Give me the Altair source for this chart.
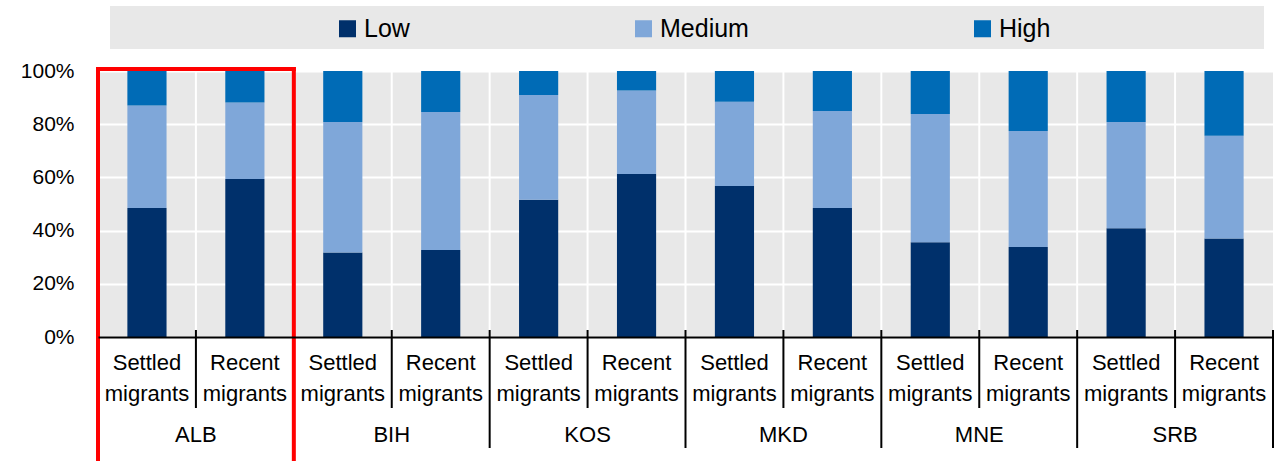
import altair as alt
import pandas as pd

# ---- data ----
countries = ["ALB", "BIH", "KOS", "MKD", "MNE", "SRB"]
groups = ["Settled migrants", "Recent migrants"]
levels = ["Low", "Medium", "High"]
# order of bars: ALB settled, ALB recent, BIH settled, ...
low = [48.5, 59.4, 31.8, 32.7, 51.6, 61.3, 56.8, 48.5, 35.6, 33.8, 40.9, 37.0]
medium = [38.5, 28.8, 49.0, 51.9, 39.4, 31.4, 31.6, 36.5, 48.2, 43.6, 39.9, 38.7]
high = [13.0, 11.8, 19.2, 15.4, 9.0, 7.3, 11.6, 15.0, 16.2, 22.6, 19.2, 24.3]
highlight = "ALB"

colors = ["#00306B", "#7FA7D9", "#006BB6"]
FONT = "Liberation Sans Narrow, Arial Narrow, Liberation Sans, Arial, sans-serif"
GRAY = "#E8E8E8"

# ---- tables built from the arrays ----
keys = [f"{c} {g}" for c in countries for g in groups]
series = {"Low": low, "Medium": medium, "High": high}
rows = []
for li, lev in enumerate(levels):
    for k, v in zip(keys, series[lev]):
        rows.append({"key": k, "level": lev, "ord": li, "share": v / 100})
bar_df = pd.DataFrame(rows)

n = len(keys)
grid_df = pd.DataFrame({"pos": list(range(1, n))})
sep_rows = []
for ci, c in enumerate(countries):
    sep_rows.append({"pos": 2 * ci, "kind": "long"})
    sep_rows.append({"pos": 2 * ci + 1, "kind": "short"})
sep_rows.append({"pos": n, "kind": "long"})
sep_df = pd.DataFrame(sep_rows)

grp_df = pd.DataFrame(
    [{"pos": 2 * ci + gi + 0.5, "label": g} for ci, c in enumerate(countries) for gi, g in enumerate(groups)]
)
cty_df = pd.DataFrame([{"pos": 2 * ci + 1, "label": c} for ci, c in enumerate(countries)])
hi = countries.index(highlight)
red_df = pd.DataFrame([{"a": 2 * hi, "b": 2 * hi + 2}])

W, H = 1175, 266
posx = lambda f="pos": alt.X(f"{f}:Q", scale=alt.Scale(domain=[0, n], nice=False, zero=False), axis=None)

band = alt.Chart(pd.DataFrame({"a": [0]})).mark_rect(color=GRAY).encode(
    x=alt.value(12), x2=alt.value(1166), y=alt.value(-65), y2=alt.value(-22)
)

vgrid = alt.Chart(grid_df).mark_rule(color="white", strokeWidth=2).encode(
    x=posx(), y=alt.value(0), y2=alt.value(H)
)

bars = alt.Chart(bar_df).mark_bar().encode(
    x=alt.X(
        "key:N",
        sort=keys,
        scale=alt.Scale(domain=keys, paddingInner=0.6, paddingOuter=0.3),
        axis=alt.Axis(labels=False, ticks=False, title=None, grid=False,
                      domainColor="black", domainWidth=2, zindex=1),
    ),
    y=alt.Y(
        "share:Q",
        stack="zero",
        scale=alt.Scale(domain=[0, 1], nice=False),
        axis=alt.Axis(format="%", values=[0, 0.2, 0.4, 0.6, 0.8, 1.0], title=None,
                      grid=True, gridColor="white", gridWidth=2, domain=False,
                      ticks=False, labelFontSize=21, labelPadding=24,
                      labelColor="black", labelFont=FONT),
    ),
    color=alt.Color(
        "level:N",
        scale=alt.Scale(domain=levels, range=colors),
        legend=alt.Legend(title=None, orient="none", legendX=237, legendY=-55,
                          direction="horizontal", symbolType="square", padding=0,
                          symbolSize=289, symbolStrokeWidth=0, symbolOpacity=1,
                          labelFontSize=25, labelFont=FONT, labelColor="black",
                          columnPadding=221, labelOffset=4),
    ),
    order=alt.Order("ord:Q"),
)

seps_short = alt.Chart(sep_df).transform_filter("datum.kind == 'short'").mark_rule(
    color="black", strokeWidth=2).encode(x=posx(), y=alt.value(259), y2=alt.value(337))
seps_long = alt.Chart(sep_df).transform_filter("datum.kind == 'long'").mark_rule(
    color="black", strokeWidth=2).encode(x=posx(), y=alt.value(259), y2=alt.value(377))

grp_text = alt.Chart(grp_df).mark_text(
    font=FONT, fontSize=22, lineBreak=" ", baseline="alphabetic", lineHeight=31,
    align="center", color="black"
).encode(x=posx(), y=alt.value(299), text="label:N")

cty_text = alt.Chart(cty_df).mark_text(
    font=FONT, fontSize=22, baseline="alphabetic", align="center", color="black"
).encode(x=posx(), y=alt.value(371), text="label:N")

red_kw = dict(color="#FF0000", strokeWidth=4, strokeCap="square")
red_left = alt.Chart(red_df).mark_rule(**red_kw).encode(x=posx("a"), y=alt.value(-2), y2=alt.value(400))
red_right = alt.Chart(red_df).mark_rule(**red_kw).encode(x=posx("b"), y=alt.value(-2), y2=alt.value(400))
red_top = alt.Chart(red_df).mark_rule(**red_kw).encode(x=posx("a"), x2="b:Q", y=alt.value(-2))

chart = (
    alt.layer(band, vgrid, bars, seps_short, seps_long, grp_text, cty_text,
              red_left, red_right, red_top)
    .resolve_scale(x="independent")
    .properties(width=W, height=H, autosize=alt.AutoSizeParams(type="none"),
                padding={"left": 98, "top": 71, "right": 10, "bottom": 124},
                background="white")
    .configure_view(fill=GRAY, stroke=None)
)

chart.save("out.html", embed_options={"renderer": "svg", "actions": False})
